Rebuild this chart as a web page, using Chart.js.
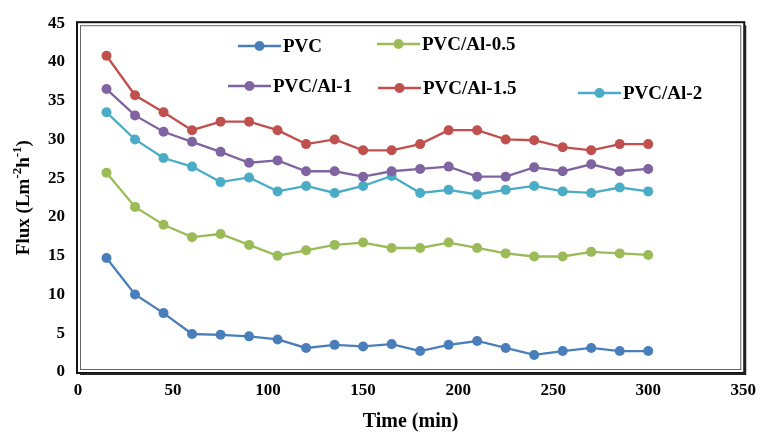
<!DOCTYPE html>
<html>
<head>
<meta charset="utf-8">
<script src="https://cdn.jsdelivr.net/npm/chart.js@4/dist/chart.umd.min.js"></script>
<style>
  html, body { margin: 0; padding: 0; background: #fff; }
  #wrap { width: 764px; height: 438px; }
</style>
</head>
<body>
<div id="wrap"><canvas id="fluxChart" width="764" height="438"></canvas></div>
<script>
// time points (min)
const times = [15, 30, 45, 60, 75, 90, 105, 120, 135, 150, 165, 180, 195, 210, 225, 240, 255, 270, 285, 300];

// flux values
const pvc     = [14.7, 10.0, 7.6, 4.9, 4.8, 4.6, 4.2, 3.1, 3.5, 3.3, 3.6, 2.7, 3.5, 4.0, 3.1, 2.2, 2.7, 3.1, 2.7, 2.7];
const pvcAl05 = [25.7, 21.3, 19.0, 17.4, 17.8, 16.4, 15.0, 15.7, 16.4, 16.7, 16.0, 16.0, 16.7, 16.0, 15.3, 14.9, 14.9, 15.5, 15.3, 15.1];
const pvcAl1  = [36.5, 33.1, 31.0, 29.7, 28.4, 27.0, 27.3, 25.9, 25.9, 25.2, 25.9, 26.2, 26.5, 25.2, 25.2, 26.4, 25.9, 26.8, 25.9, 26.2];
const pvcAl15 = [40.8, 35.7, 33.5, 31.2, 32.3, 32.3, 31.2, 29.4, 30.0, 28.6, 28.6, 29.4, 31.2, 31.2, 30.0, 29.9, 29.0, 28.6, 29.4, 29.4];
const pvcAl2  = [33.5, 30.0, 27.6, 26.5, 24.5, 25.1, 23.3, 24.0, 23.1, 24.0, 25.3, 23.1, 23.5, 22.9, 23.5, 24.0, 23.3, 23.1, 23.8, 23.3];

const seriesNames = ["PVC", "PVC/Al-0.5", "PVC/Al-1", "PVC/Al-1.5", "PVC/Al-2"];
const seriesColors = ["#4a7ebb", "#9bbb59", "#8064a2", "#c0504d", "#4bacc6"];
const seriesData = [pvc, pvcAl05, pvcAl1, pvcAl15, pvcAl2];

const xTicks = [0, 50, 100, 150, 200, 250, 300, 350];
const yTicks = [0, 5, 10, 15, 20, 25, 30, 35, 40, 45];

// where each legend entry sits (line start x, centre y)
const legendSpots = [
  {x: 238, y: 46},
  {x: 377, y: 44},
  {x: 228, y: 86},
  {x: 378, y: 88},
  {x: 578, y: 93}
];

const serif = "'Liberation Serif', 'Times New Roman', serif";

const datasets = seriesNames.map((name, i) => ({
  label: name,
  data: times.map((t, j) => ({x: t, y: seriesData[i][j]})),
  borderColor: seriesColors[i],
  backgroundColor: seriesColors[i],
  borderWidth: 2.3,
  pointRadius: 5,
  pointHoverRadius: 5,
  pointBorderWidth: 0,
  tension: 0
}));

// frame, legend and y title drawn on top
const decorations = {
  id: "decorations",
  afterDraw(chart) {
    const ctx = chart.ctx;
    const a = chart.chartArea;
    ctx.save();

    // double frame around plot
    ctx.strokeStyle = "#111";
    ctx.lineWidth = 2;
    ctx.strokeRect(a.left - 1, a.top - 1, a.right - a.left + 2, a.bottom - a.top + 2);
    ctx.strokeStyle = "#666";
    ctx.lineWidth = 1;
    ctx.strokeRect(a.left + 2.5, a.top + 2.5, a.right - a.left - 5, a.bottom - a.top - 5);
    // shadow on right and bottom
    ctx.strokeStyle = "#222";
    ctx.lineWidth = 2;
    ctx.beginPath();
    ctx.moveTo(a.right + 2, a.top + 2);
    ctx.lineTo(a.right + 2, a.bottom + 2);
    ctx.lineTo(a.left + 2, a.bottom + 2);
    ctx.stroke();

    // legend
    ctx.font = "bold 19px " + serif;
    ctx.textBaseline = "middle";
    ctx.textAlign = "left";
    legendSpots.forEach((s, i) => {
      ctx.strokeStyle = seriesColors[i];
      ctx.fillStyle = seriesColors[i];
      ctx.lineWidth = 2.5;
      ctx.beginPath();
      ctx.moveTo(s.x, s.y);
      ctx.lineTo(s.x + 43, s.y);
      ctx.stroke();
      ctx.beginPath();
      ctx.arc(s.x + 21.5, s.y, 5, 0, Math.PI * 2);
      ctx.fill();
      ctx.fillStyle = "#000";
      ctx.fillText(seriesNames[i], s.x + 45, s.y + 1);
    });

    // y axis title with superscripts
    const parts = [
      {t: "Flux (Lm", sup: false},
      {t: "-2", sup: true},
      {t: "h", sup: false},
      {t: "-1", sup: true},
      {t: ")", sup: false}
    ];
    const big = "bold 19px " + serif;
    const small = "bold 13px " + serif;
    let total = 0;
    parts.forEach(p => {
      ctx.font = p.sup ? small : big;
      p.w = ctx.measureText(p.t).width;
      total += p.w;
    });
    ctx.translate(22, (a.top + a.bottom) / 2);
    ctx.rotate(-Math.PI / 2);
    ctx.fillStyle = "#000";
    ctx.textBaseline = "alphabetic";
    let px = -total / 2;
    parts.forEach(p => {
      ctx.font = p.sup ? small : big;
      ctx.fillText(p.t, px, p.sup ? -1 : 7);
      px += p.w;
    });

    ctx.restore();
  }
};

new Chart(document.getElementById("fluxChart"), {
  type: "line",
  data: { datasets: datasets },
  plugins: [decorations],
  options: {
    responsive: false,
    animation: false,
    layout: { padding: { top: 17, right: 16, left: 0, bottom: 0 } },
    plugins: {
      legend: { display: false },
      tooltip: { enabled: false }
    },
    scales: {
      x: {
        type: "linear",
        min: 0,
        max: 350,
        afterBuildTicks: (scale) => { scale.ticks = xTicks.map(v => ({value: v})); },
        afterFit: (scale) => { scale.height = 66; },
        grid: { display: false, drawTicks: false },
        border: { display: false },
        ticks: {
          color: "#000",
          padding: 8,
          font: { family: serif, size: 17, weight: "bold" }
        },
        title: {
          display: true,
          text: "Time (min)",
          color: "#000",
          padding: { top: 11 },
          font: { family: serif, size: 20, weight: "bold" }
        }
      },
      y: {
        min: 0,
        max: 45,
        afterBuildTicks: (scale) => { scale.ticks = yTicks.map(v => ({value: v})); },
        afterFit: (scale) => { scale.width = 78; },
        grid: { display: false, drawTicks: false },
        border: { display: false },
        ticks: {
          color: "#000",
          padding: 13,
          font: { family: serif, size: 17, weight: "bold" }
        }
      }
    }
  }
});
</script>
</body>
</html>
